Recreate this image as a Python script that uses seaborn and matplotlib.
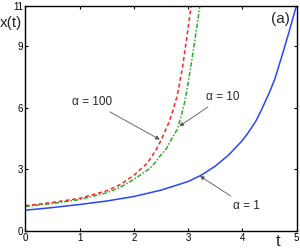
import matplotlib
matplotlib.use("Agg")
import matplotlib.pyplot as plt
import seaborn as sns

# Data
t_a1 = [0, 0.5, 1, 1.5, 2, 2.5, 3, 3.25, 3.5, 3.75, 4, 4.1, 4.25, 4.35, 4.5, 4.6, 4.75, 4.85, 5]
x_a1 = [1.0, 1.13, 1.28, 1.45, 1.67, 1.98, 2.4, 2.72, 3.15, 3.7, 4.4, 4.75, 5.35, 5.88, 6.75, 7.4, 8.7, 9.6, 11.0]

t_a10 = [0, 0.5, 1, 1.5, 1.75, 2, 2.3, 2.4, 2.5, 2.6, 2.67, 2.8, 2.87, 2.94, 3.0, 3.05, 3.12, 3.22]
x_a10 = [1.18, 1.33, 1.52, 1.85, 2.12, 2.5, 3.05, 3.35, 3.7, 4.0, 4.35, 4.95, 5.55, 6.3, 7.2, 8.0, 9.2, 11.0]

t_a100 = [0, 0.5, 1, 1.5, 1.75, 2, 2.25, 2.4, 2.5, 2.65, 2.72, 2.8, 2.85, 2.9, 2.98, 3.06]
x_a100 = [1.22, 1.38, 1.58, 1.95, 2.25, 2.7, 3.3, 3.9, 4.4, 5.3, 5.85, 6.6, 7.3, 8.0, 9.5, 11.0]

x_ticks = [0, 1, 2, 3, 4, 5]
y_ticks = [0, 3, 6, 9, 11]

sns.set_style("ticks")
plt.rcParams['font.family'] = ['Liberation Sans', 'DejaVu Sans']

fig = plt.figure(figsize=(3, 2.5), dpi=100)
ax = fig.add_axes([25.3/300, 1-230.7/250, (296.5-25.3)/300, (230.7-5.5)/250])

sns.lineplot(x=t_a1, y=x_a1, ax=ax, color='#2a44ff', lw=1.1, sort=False)
l10 = sns.lineplot(x=t_a10, y=x_a10, ax=ax, color='#2eaa2e', lw=1.1, sort=False).lines[-1]
l10.set_dashes([3, 1.2, 1, 1.2])
l100 = sns.lineplot(x=t_a100, y=x_a100, ax=ax, color='#ff2222', lw=1.1, sort=False).lines[-1]
l100.set_dashes([2.6, 1.8])

ax.set_xlim(0, 5)
ax.set_ylim(0, 11)
ax.set_xticks(x_ticks)
ax.set_yticks(y_ticks)
ax.set_xticklabels([str(v) for v in x_ticks])
ax.set_yticklabels([str(v) for v in y_ticks])
ax.tick_params(direction='in', top=True, right=True, length=2.5, width=0.8,
               labelsize=7, pad=1.5, colors='black')
for s in ax.spines.values():
    s.set_linewidth(1.0)
    s.set_color('black')
ax.set_xlabel('')
ax.set_ylabel('')

arrow = dict(arrowstyle='-|>', color='#555555', lw=0.6, mutation_scale=6,
             shrinkA=1, shrinkB=0)
ax.annotate('α = 100', xy=(2.48, 4.45), xytext=(1.23, 6.29), ha='center', va='center',
            fontsize=8.5, arrowprops=arrow)
ax.annotate('α = 10', xy=(2.84, 5.1), xytext=(3.64, 6.53), ha='center', va='center',
            fontsize=8.5, arrowprops=arrow)
ax.annotate('α = 1', xy=(3.22, 2.67), xytext=(4.07, 1.21), ha='center', va='center',
            fontsize=8.5, arrowprops=arrow)

ax.text(0.94, 0.94, '(a)', transform=ax.transAxes, ha='center', va='center', fontsize=11)
fig.text(11/300, 1-23/250, 'x(t)', ha='center', va='center', fontsize=11)
fig.text(278/300, 1-242/250, 't', ha='center', va='center', fontsize=12)

fig.savefig('out.png', dpi=100)
